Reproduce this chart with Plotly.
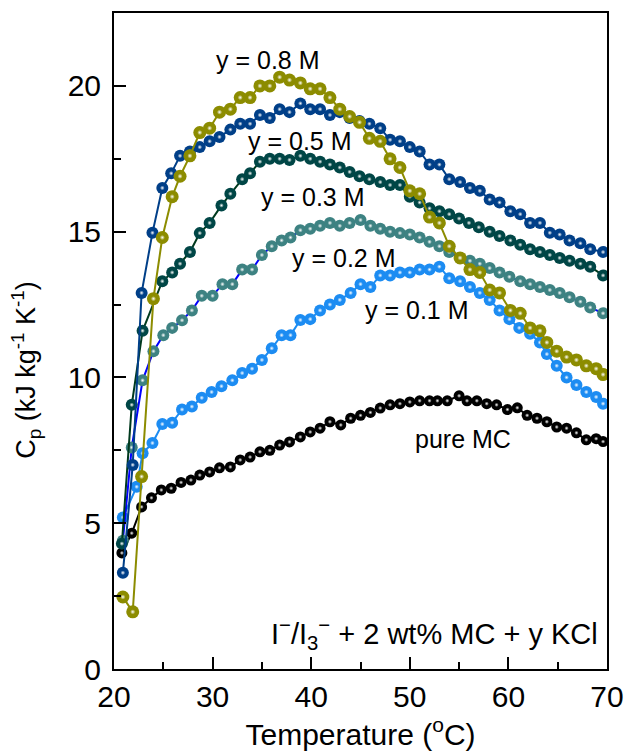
import plotly.graph_objects as go

# ---------------- data ----------------
T_pure = [20.8, 21.8, 22.8, 23.8, 24.8, 25.8, 26.8, 27.8, 28.7, 29.7, 30.7, 31.8, 32.8, 33.8, 34.8,
          35.8, 36.8, 37.8, 38.9, 39.9, 40.9, 41.9, 43.0, 44.0, 45.0, 46.0, 47.0, 48.0, 49.0, 50.0,
          51.0, 52.0, 52.8, 53.8, 55.0, 55.8, 56.8, 57.8, 58.8, 59.9, 60.9, 61.9, 62.9, 63.9, 64.9,
          65.9, 66.9, 67.9, 68.9, 69.6]
Cp_pure = [3.98, 4.66, 5.56, 5.87, 6.14, 6.2, 6.4, 6.48, 6.65, 6.76, 6.9, 6.93, 7.17, 7.27, 7.45,
           7.5, 7.68, 7.79, 7.96, 8.13, 8.26, 8.48, 8.37, 8.6, 8.7, 8.8, 8.95, 9.06, 9.1, 9.16,
           9.2, 9.2, 9.2, 9.2, 9.37, 9.2, 9.2, 9.1, 9.06, 8.9, 8.96, 8.7, 8.6, 8.48, 8.3,
           8.26, 8.1, 7.86, 7.9, 7.8]

T_01 = [20.9, 22.3, 22.9, 23.9, 24.9, 25.9, 26.9, 27.9, 28.9, 29.9, 30.9, 32.0, 33.0, 34.0, 35.0,
        36.0, 37.0, 37.9, 38.9, 39.9, 40.9, 41.9, 42.9, 44.0, 45.0, 46.0, 47.0, 48.0, 49.0, 50.0,
        51.0, 52.0, 53.0, 54.0, 55.1, 56.1, 57.1, 58.1, 59.1, 60.1, 61.1, 62.2, 63.2, 63.9, 64.9,
        65.9, 66.9, 67.9, 68.9, 69.6]
Cp_01 = [5.2, 6.25, 7.4, 7.75, 8.4, 8.45, 8.9, 9.0, 9.3, 9.5, 9.7, 9.9, 10.15, 10.3, 10.6,
         11.0, 11.45, 11.45, 11.97, 12.0, 12.3, 12.5, 12.66, 12.9, 13.2, 13.1, 13.5, 13.5, 13.6, 13.6,
         13.7, 13.7, 13.8, 13.4, 13.3, 13.1, 12.9, 12.66, 12.3, 12.0, 11.7, 11.5, 11.2, 10.8, 10.4,
         10.0, 9.74, 9.5, 9.33, 9.1]

T_02 = [20.9, 21.8, 22.9, 24.0, 25.0, 25.9, 26.9, 27.9, 28.9, 30.0, 31.0, 32.0, 33.0, 34.0, 35.0,
        36.0, 37.0, 37.9, 38.9, 39.9, 40.9, 41.9, 42.9, 43.9, 45.0, 46.0, 47.0, 48.0, 49.0, 50.0,
        51.0, 52.0, 53.0, 54.0, 55.1, 56.1, 57.1, 58.1, 59.1, 60.1, 61.2, 62.2, 63.2, 64.2, 65.2,
        66.2, 67.3, 68.3, 69.6]
Cp_02 = [4.4, 7.6, 9.9, 10.9, 11.45, 11.7, 11.96, 12.3, 12.8, 12.8, 13.2, 13.2, 13.7, 13.7, 14.2,
         14.5, 14.7, 14.8, 15.05, 15.1, 15.2, 15.3, 15.2, 15.3, 15.4, 15.2, 15.1, 15.0, 14.95, 14.9,
         14.8, 14.65, 14.5, 14.3, 14.1, 14.0, 13.9, 13.75, 13.6, 13.45, 13.3, 13.2, 13.1, 13.0, 12.9,
         12.75, 12.6, 12.4, 12.2]

T_03 = [20.8, 21.8, 22.9, 24.9, 25.9, 26.7, 27.7, 28.7, 29.7, 30.9, 31.8, 33.0, 33.8, 34.8, 35.8,
        36.8, 37.8, 38.9, 39.9, 40.9, 41.9, 42.9, 43.9, 44.9, 45.9, 47.0, 48.0, 49.0, 50.0, 51.0,
        52.0, 53.0, 54.0, 55.0, 56.0, 57.0, 58.1, 59.1, 60.2, 61.2, 62.2, 63.2, 64.2, 65.2, 66.2,
        67.3, 68.3, 69.6]
Cp_03 = [4.3, 9.06, 11.6, 13.3, 13.6, 13.9, 14.3, 14.95, 15.3, 15.9, 16.3, 16.8, 17.0, 17.4, 17.5,
         17.5, 17.46, 17.6, 17.5, 17.4, 17.3, 17.2, 17.05, 16.9, 16.8, 16.7, 16.6, 16.6, 16.2, 16.0,
         15.8, 15.7, 15.6, 15.45, 15.3, 15.15, 15.0, 14.85, 14.7, 14.55, 14.4, 14.3, 14.2, 14.1, 14.0,
         13.9, 13.8, 13.5]

T_05 = [20.9, 21.9, 22.8, 23.9, 24.9, 25.8, 26.7, 27.7, 28.7, 29.7, 30.7, 31.8, 32.8, 33.8, 34.8,
        35.8, 36.8, 37.8, 38.9, 39.9, 40.9, 41.9, 42.9, 43.9, 44.9, 45.9, 47.0, 48.0, 49.0, 50.0,
        51.0, 52.0, 53.0, 54.0, 55.1, 56.1, 57.1, 58.1, 59.1, 60.2, 61.2, 62.2, 63.2, 64.2, 65.2,
        66.2, 67.3, 68.3, 69.6]
Cp_05 = [3.3, 7.0, 12.9, 14.96, 16.5, 17.0, 17.6, 17.75, 17.9, 18.1, 18.25, 18.5, 18.7, 18.7, 19.0,
         18.9, 19.2, 19.1, 19.4, 19.2, 19.2, 19.0, 19.1, 18.9, 18.8, 18.7, 18.55, 18.15, 18.1, 17.9,
         17.75, 17.3, 17.3, 16.8, 16.7, 16.5, 16.4, 16.1, 16.0, 15.7, 15.6, 15.3, 15.3, 14.96, 14.9,
         14.7, 14.6, 14.4, 14.3]

T_08 = [20.9, 21.9, 22.8, 24.0, 24.9, 25.9, 26.7, 27.7, 28.7, 29.7, 30.7, 31.8, 32.8, 33.8, 34.8,
        35.8, 36.8, 37.8, 38.9, 39.9, 40.9, 41.9, 42.9, 43.9, 44.9, 45.9, 47.0, 48.0, 49.0, 50.0,
        51.0, 52.0, 53.0, 54.0, 55.1, 56.1, 57.1, 58.1, 59.1, 60.2, 61.2, 62.2, 63.2, 63.9, 64.9,
        65.9, 66.9, 67.9, 68.9, 69.6]
Cp_08 = [2.47, 1.96, 6.6, 12.7, 14.8, 16.2, 16.9, 17.6, 18.4, 18.55, 19.1, 19.2, 19.6, 19.6, 20.0,
         20.0, 20.3, 20.2, 20.1, 19.9, 19.9, 19.6, 19.2, 18.95, 18.75, 18.2, 18.1, 17.5, 17.2, 16.4,
         16.3, 15.5, 15.3, 14.5, 14.1, 13.7, 13.6, 13.0, 12.9, 12.3, 12.2, 11.7, 11.6, 11.2, 10.9,
         10.7, 10.6, 10.4, 10.3, 10.1]

series_names = ["pure MC", "y = 0.1 M", "y = 0.2 M", "y = 0.3 M", "y = 0.5 M", "y = 0.8 M"]
label_x = [55.4, 50.7, 43.3, 40.2, 38.9, 35.6]
label_y = [7.9, 12.3, 14.1, 16.2, 18.1, 20.9]

x_ticks = [20, 30, 40, 50, 60, 70]
y_ticks = [0, 5, 10, 15, 20]

# ---------------- styles ----------------
marker_colors = ["#000000", "#1C8CF2", "#3D8282", "#004646", "#003F88", "#8C8C00"]
line_colors = ["#000000", "#1C8CF2", "#0000FF", "#003A1E", "#003F88", "#8C8C00"]
marker_sizes = [11, 12, 12, 12, 12, 13]
FONT = "Arial, Liberation Sans, sans-serif"

data = [(T_pure, Cp_pure), (T_01, Cp_01), (T_02, Cp_02), (T_03, Cp_03), (T_05, Cp_05), (T_08, Cp_08)]

fig = go.Figure()
for (xs, ys), mc, lc, ms, nm in zip(data, marker_colors, line_colors, marker_sizes, series_names):
    fig.add_trace(go.Scatter(x=xs, y=ys, mode="lines+markers", name=nm,
                             line=dict(color=lc, width=2),
                             marker=dict(color=mc, size=ms, line=dict(width=0)),
                             showlegend=False))
    fig.add_trace(go.Scatter(x=xs, y=ys, mode="markers", hoverinfo="skip",
                             marker=dict(color=mc, size=ms * 0.4,
                                         gradient=dict(type="radial", color="white"),
                                         line=dict(width=0)),
                             showlegend=False))

for nm, lx, ly in zip(series_names, label_x, label_y):
    fig.add_annotation(x=lx, y=ly, text=nm, showarrow=False,
                       font=dict(family=FONT, size=25, color="black"))

fig.add_annotation(xref="paper", yref="paper", x=0.985, y=0.053, xanchor="right", yanchor="middle",
                   text="I<sup>\u2212</sup>/I<sub>3</sub><sup>\u2212</sup> + 2 wt% MC + y KCl",
                   showarrow=False, font=dict(family=FONT, size=29, color="black"))

# y-axis title (as annotation so it can sit slightly below centre, like the reference)
fig.add_annotation(xref="paper", yref="paper", x=-0.1785, y=0.456, xanchor="center", yanchor="middle",
                   textangle=-90, showarrow=False,
                   text="C<sub>p</sub> (kJ kg<sup>-1</sup> K<sup>-1</sup>)",
                   font=dict(family=FONT, size=27, color="black"))

axis_common = dict(showgrid=False, zeroline=False, showline=True, linecolor="black", linewidth=2,
                   mirror=True, ticks="inside", tickwidth=2, tickcolor="black", automargin=False,
                   tickfont=dict(family=FONT, size=30, color="black"))

fig.update_xaxes(range=[20, 70], tickvals=x_ticks, ticklen=12,
                 minor=dict(ticks="inside", ticklen=7, dtick=5, tickwidth=2, tickcolor="black"),
                 title=dict(text="Temperature (<sup>o</sup>C)", font=dict(family=FONT, size=30, color="black"),
                            standoff=6),
                 **axis_common)
fig.update_yaxes(range=[0, 22.5], tickvals=y_ticks, ticklen=12, ticklabelstandoff=5,
                 minor=dict(ticks="inside", ticklen=7, dtick=2.5, tickwidth=2, tickcolor="black"),
                 **axis_common)

fig.update_layout(width=628, height=754, margin=dict(l=114, r=21, t=13, b=85),
                  plot_bgcolor="white", paper_bgcolor="white", showlegend=False)

fig.write_html("out.html")
